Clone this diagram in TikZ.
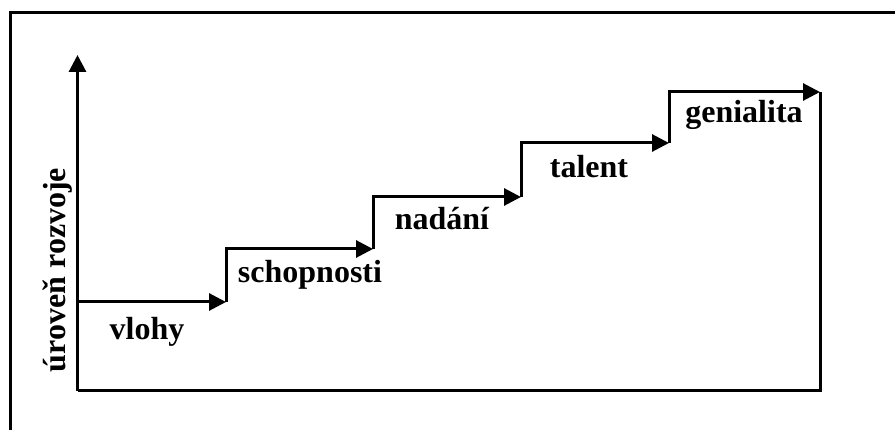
\documentclass[tikz,border=0pt]{standalone}
\usepackage{fontspec}
\setmainfont{Liberation Serif}
\usetikzlibrary{arrows.meta}
\begin{document}
\begin{tikzpicture}[x=1pt,y=-1pt,
  line/.style={line width=3pt,line join=miter},
  tip/.style={-{Triangle[length=17pt,width=17pt]}},
  lbl/.style={font=\fontsize{32}{32}\selectfont\bfseries,inner sep=0pt,anchor=base}]
\useasboundingbox (0,0) rectangle (895,430);
% frame
\draw[line width=3pt] (10,432) -- (10,13) -- (897,13);
% coordinates
\coordinate (o) at (77.5,391);
\coordinate (ytop) at (77.5,55);
\coordinate (s0) at (77.5,302);
\coordinate (a1) at (226,302);
\coordinate (b1) at (226,249);
\coordinate (a2) at (373,249);
\coordinate (b2) at (373,197);
\coordinate (a3) at (521,197);
\coordinate (b3) at (521,143);
\coordinate (a4) at (669,143);
\coordinate (b4) at (669,92);
\coordinate (a5) at (820,92);
\coordinate (br) at (820,391);
% axes and frame of the graph
\draw[line,tip] (o) -- (ytop);
\draw[line] (o) -- (br) -- (a5);
% steps
\draw[line,tip] (s0) -- (a1);
\draw[line,tip] (a1) -- (b1) -- (a2);
\draw[line,tip] (a2) -- (b2) -- (a3);
\draw[line,tip] (a3) -- (b3) -- (a4);
\draw[line,tip] (a4) -- (b4) -- (a5);
% labels
\node[lbl] (vlohy) at (147,340) {vlohy};
\node[lbl] (schop) at (310,283) {schopnosti};
\node[lbl] (nadani) at (442,230) {nadání};
\node[lbl] (talent) at (589,178) {talent};
\node[lbl] (genial) at (744,123) {genialita};
\node[lbl,rotate=90] (yl) at (65,270) {úroveň rozvoje};
\end{tikzpicture}
\end{document}
